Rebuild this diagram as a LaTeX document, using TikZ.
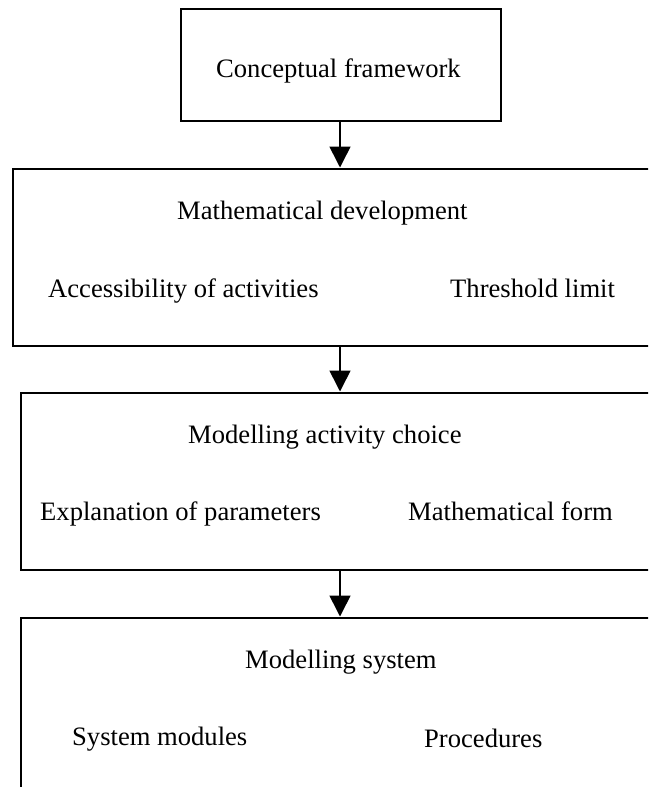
\documentclass[tikz,border=0pt]{standalone}
\usepackage{fontspec}
\setmainfont{Liberation Serif}
\usetikzlibrary{arrows.meta}

\tikzset{
  stagebox/.style={draw=black, line width=2pt, fill=white, inner sep=0pt, anchor=north west},
  label/.style={inner sep=0pt, anchor=base west, font=\fontsize{26.6}{32}\selectfont},
  flow/.style={line width=1.6pt, -{Triangle[width=21pt,length=21pt]}, shorten >=0.5pt}
}

\begin{document}
\begin{tikzpicture}[x=1pt, y=-1pt]
  % page frame; the lower stages run past the right and bottom edges
  \clip (0,0) rectangle (648,787);
  \fill[white] (0,0) rectangle (648,787);

  % stage boxes
  \node[stagebox, minimum width=320pt, minimum height=112pt] (concept) at (180,8) {};
  \node[stagebox, minimum width=660pt, minimum height=177pt] (mathdev) at (12,168) {};
  \node[stagebox, minimum width=660pt, minimum height=177pt] (choice) at (20,392) {};
  \node[stagebox, minimum width=660pt, minimum height=200pt] (system) at (20,617) {};

  % arrow anchors on the central axis
  \coordinate (c1) at (340,120);
  \coordinate (c2) at (340,168);
  \coordinate (c3) at (340,345);
  \coordinate (c4) at (340,392);
  \coordinate (c5) at (340,569);
  \coordinate (c6) at (340,617);

  \draw[flow] (c1) -- (c2);
  \draw[flow] (c3) -- (c4);
  \draw[flow] (c5) -- (c6);

  % texts
  \node[label] (t1) at (216,77) {Conceptual framework};
  \node[label] (t2) at (177,219) {Mathematical development};
  \node[label] (t3) at (48,297) {Accessibility of activities};
  \node[label] (t4) at (450,297) {Threshold limit};
  \node[label] (t5) at (188,443) {Modelling activity choice};
  \node[label] (t6) at (40,520) {Explanation of parameters};
  \node[label] (t7) at (408,520) {Mathematical form};
  \node[label] (t8) at (245,668) {Modelling system};
  \node[label] (t9) at (72,745) {System modules};
  \node[label] (t10) at (424,747) {Procedures};
\end{tikzpicture}
\end{document}
